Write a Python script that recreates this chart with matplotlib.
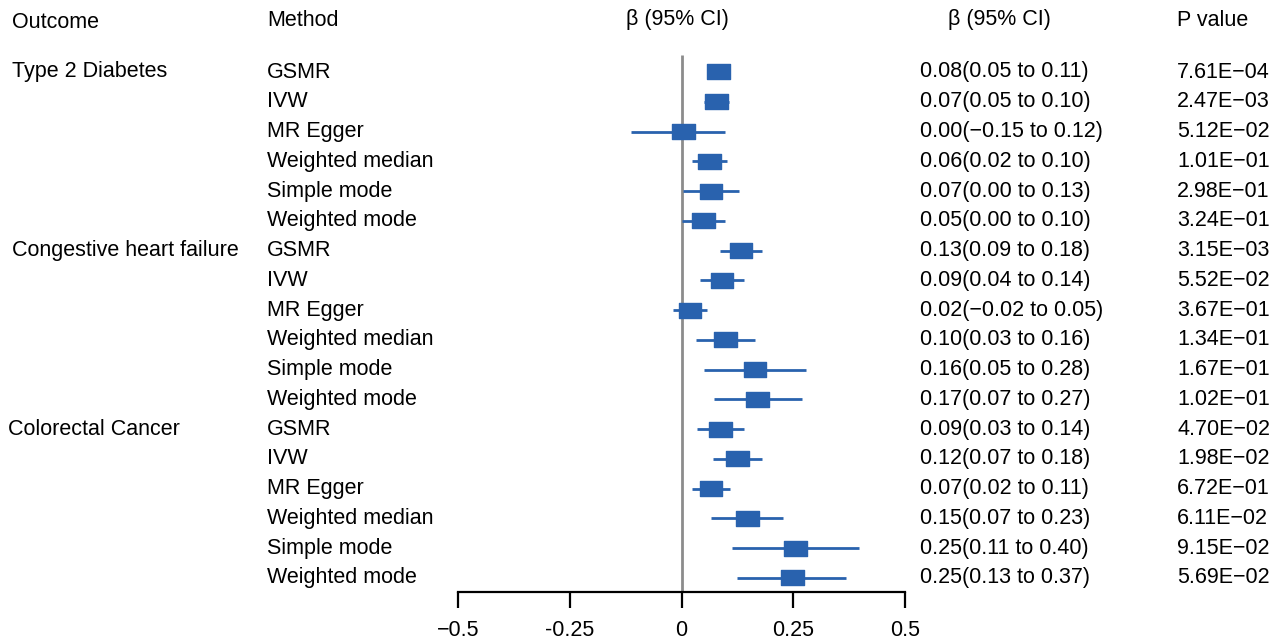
import matplotlib
matplotlib.use("Agg")
import matplotlib.pyplot as plt
from matplotlib.patches import Rectangle

plt.rcParams['font.family'] = ['Liberation Sans', 'DejaVu Sans']

outcomes = ["Type 2 Diabetes", "Congestive heart failure", "Colorectal Cancer"]
methods = ["GSMR", "IVW", "MR Egger", "Weighted median", "Simple mode", "Weighted mode"]
# plotted estimates (read from the drawn marks)
beta = [0.083, 0.078, 0.005, 0.063, 0.066, 0.049,
        0.133, 0.091, 0.019, 0.098, 0.164, 0.170,
        0.087, 0.125, 0.066, 0.148, 0.255, 0.248]
lower = [0.057, 0.051, -0.112, 0.024, 0.004, 0.001,
         0.087, 0.042, -0.018, 0.032, 0.050, 0.072,
         0.034, 0.071, 0.024, 0.067, 0.112, 0.125]
upper = [0.109, 0.106, 0.098, 0.102, 0.128, 0.098,
         0.180, 0.139, 0.056, 0.164, 0.279, 0.270,
         0.140, 0.181, 0.108, 0.228, 0.397, 0.369]
ci_text = ["0.08(0.05 to 0.11)", "0.07(0.05 to 0.10)", "0.00(\u22120.15 to 0.12)",
           "0.06(0.02 to 0.10)", "0.07(0.00 to 0.13)", "0.05(0.00 to 0.10)",
           "0.13(0.09 to 0.18)", "0.09(0.04 to 0.14)", "0.02(\u22120.02 to 0.05)",
           "0.10(0.03 to 0.16)", "0.16(0.05 to 0.28)", "0.17(0.07 to 0.27)",
           "0.09(0.03 to 0.14)", "0.12(0.07 to 0.18)", "0.07(0.02 to 0.11)",
           "0.15(0.07 to 0.23)", "0.25(0.11 to 0.40)", "0.25(0.13 to 0.37)"]
p_text = ["7.61E\u221204", "2.47E\u221203", "5.12E\u221202", "1.01E\u221201", "2.98E\u221201", "3.24E\u221201",
          "3.15E\u221203", "5.52E\u221202", "3.67E\u221201", "1.34E\u221201", "1.67E\u221201", "1.02E\u221201",
          "4.70E\u221202", "1.98E\u221202", "6.72E\u221201", "6.11E\u221202", "9.15E\u221202", "5.69E\u221202"]
xticks = [-0.5, -0.25, 0, 0.25, 0.5]
xticklabels = ["\u22120.5", "-0.25", "0", "0.25", "0.5"]

W, H = 1274, 642
fig = plt.figure(figsize=(W / 100, H / 100), dpi=100)

x0, x1 = 458, 905
ybot = 592
row0, dy = 72, 29.76
ax = fig.add_axes([x0 / W, (H - ybot) / H, (x1 - x0) / W, ybot / H])
ax.set_xlim(-0.5, 0.5)
ax.set_ylim((ybot - row0) / dy, -row0 / dy)
for s in ["top", "left", "right"]:
    ax.spines[s].set_visible(False)
ax.spines["bottom"].set_linewidth(1.6)
ax.set_yticks([])
ax.set_xticks(xticks)
ax.set_xticklabels(xticklabels, fontsize=15.5)
ax.tick_params(axis="x", length=11.5, width=1.6, pad=9)
ax.patch.set_alpha(0)

color = "#2962AE"
ax.plot([0, 0], [(55 - row0) / dy, (ybot - row0) / dy], color="#8c8c8c", lw=2, zorder=1, solid_capstyle="butt")

bw = 22.5 / (x1 - x0)
bh = 15 / dy
n = len(beta)
for i in range(n):
    ax.plot([lower[i], upper[i]], [i, i], color=color, lw=2, zorder=2, solid_capstyle="butt")
    ax.add_patch(Rectangle((beta[i] - bw / 2, i - bh / 2), bw, bh, facecolor=color,
                           edgecolor=color, lw=1, zorder=3, joinstyle="round"))

def ftext(x, y, s, ha="left"):
    fig.text(x / W, 1 - y / H, s, ha=ha, va="center", fontsize=15.5)

ftext(12, 22, "Outcome")
ftext(267, 20, "Method")
ftext(677, 20, "\u03b2 (95% CI)", ha="center")
ftext(999, 20, "\u03b2 (95% CI)", ha="center")
ftext(1177, 20, "P value")

out_x = [12, 12, 8]
for g, name in enumerate(outcomes):
    ftext(out_x[g], row0 + dy * 6 * g, name)

for i in range(n):
    y = row0 + dy * i
    ftext(267, y, methods[i % 6])
    ftext(920, y, ci_text[i])
    ftext(1177, y, p_text[i])

fig.savefig("out.png", dpi=100)
